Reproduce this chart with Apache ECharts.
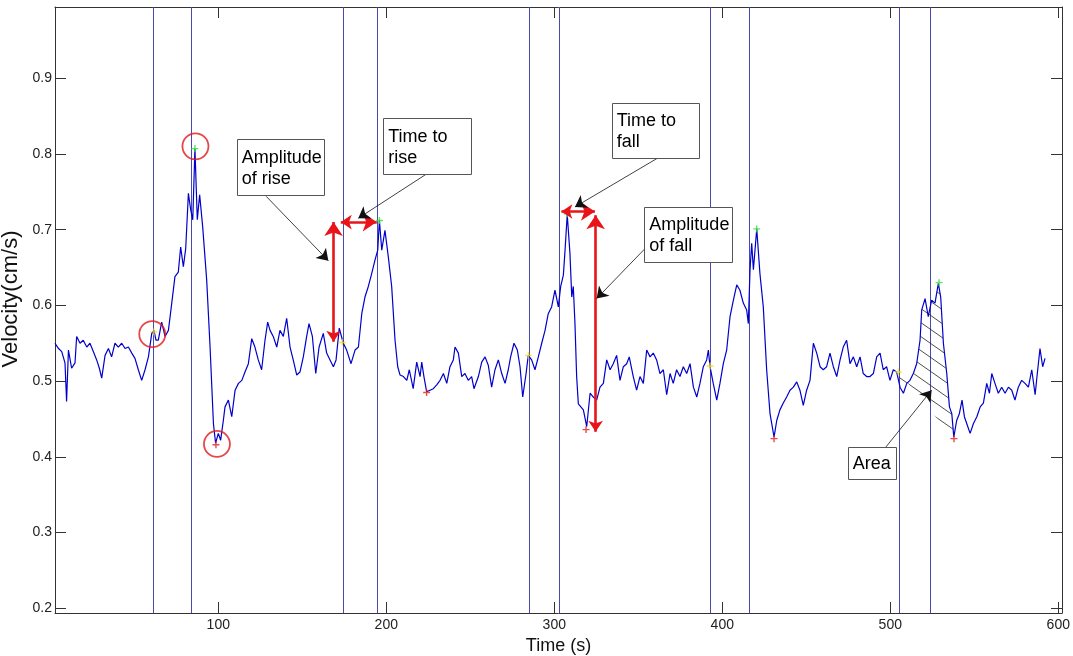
<!DOCTYPE html>
<html><head><meta charset="utf-8">
<script src="https://cdn.jsdelivr.net/npm/echarts@6/dist/echarts.min.js"></script>
<style>html,body{margin:0;padding:0;background:#fff}#c{width:1073px;height:656px}</style>
</head><body><div id="c"></div>
<script>
// ---- data ----
const time = [2.8,4.9,6.8,8.75,9.7,10.8,12.7,14.7,15.7,17.7,19.6,21.7,23.6,25.6,27.6,29.2,30.6,32.6,34.6,36.5,38.5,40.5,42.5,44.5,46.5,48.5,50.4,52.4,54.4,56.4,58.4,60.4,61.7,62.9,64.3,66.3,68.3,70.3,72.3,74.2,76.2,77.6,79.2,80.6,82.2,83.6,84.8,86.1,87.5,88.9,90.7,93.1,95.1,97.1,98.4,100,101.4,103,104,106,108,110,112,114,115.9,117.9,119.9,121.8,123.8,125.8,127.8,129.4,130.8,132.7,134.8,136.7,138.7,140.7,142.7,144.6,146.7,148.6,150.6,152.6,154,156,158,160,162.5,164.5,166.5,168.5,170.1,172,174.4,176.4,179,181.4,183.4,185.4,187.3,189.3,191.3,193.3,194.9,195.9,197.3,199.2,201.2,203.2,205.2,206.8,208.2,210.2,212.2,213.7,216,218.1,220.1,221.1,222.4,224,226,228,230,232,234,236,237.9,239.9,240.9,242.9,244.9,246.8,248.8,250.8,252.2,254.8,256.8,258.8,260.7,262.7,264.7,266.7,268.7,270.7,272.6,274,276,278,279.6,281.2,283.2,284.5,286.5,288.5,290.5,292.5,294.5,296.4,298.4,300.4,302.4,303.8,305.4,306.4,307.7,309.3,310.4,311.3,312.3,313.3,314.3,315.3,317.3,319.3,321.3,323.2,325.2,327.2,329.2,331.2,333.2,335.1,337.1,339.1,341.1,343.1,344.6,347,349,351,353,355,357,358.9,360.9,362.9,364.9,366.9,368.9,370.8,372.8,374.8,376.8,378.8,380.8,382.8,384.8,386.7,388.7,390.7,391.7,392.7,394.6,396.7,398.6,400.6,402.6,404.6,406.6,408.6,410.5,412.5,414.5,415.5,416.5,417.5,418.5,420.5,422.4,424.4,426.4,428.4,430.8,432.4,434.3,436.3,438.3,440.3,442.3,444.3,446.2,448.2,450.2,452.2,454.2,456.2,458.2,460.1,462.1,464.1,466.1,468.1,470.1,472,474,476,478,480,482,483.9,485.9,487.9,489.9,491.9,493.9,495.8,497.8,499.8,501.8,503.8,505.8,507.8,509.8,511.7,513.7,515.7,517.7,518.7,520.7,522.6,524.6,526.6,528.6,530,531.6,533.6,535.2,536.6,537.8,539.5,541.1,542.7,544.1,546.1,547.5,549.5,551.5,553.5,555.4,557.4,559,560.4,562.3,564.3,566.3,568.3,570.3,572.3,574.2,576.2,578.2,580.2,582.2,584.2,586.2,587.5,589.1,590.7,592.1];
const velocity = [0.550,0.543,0.539,0.524,0.473,0.541,0.517,0.524,0.559,0.550,0.554,0.545,0.550,0.539,0.528,0.517,0.504,0.534,0.543,0.532,0.550,0.545,0.550,0.543,0.545,0.537,0.530,0.515,0.501,0.515,0.532,0.563,0.567,0.554,0.554,0.578,0.559,0.567,0.603,0.638,0.644,0.677,0.651,0.675,0.748,0.726,0.713,0.807,0.713,0.746,0.704,0.633,0.545,0.444,0.418,0.431,0.422,0.448,0.466,0.475,0.453,0.488,0.497,0.501,0.512,0.523,0.556,0.545,0.528,0.515,0.554,0.578,0.567,0.559,0.545,0.567,0.559,0.583,0.545,0.528,0.508,0.512,0.532,0.559,0.576,0.559,0.510,0.545,0.563,0.537,0.528,0.519,0.528,0.570,0.550,0.541,0.523,0.541,0.545,0.589,0.611,0.625,0.642,0.660,0.673,0.712,0.673,0.699,0.664,0.625,0.554,0.519,0.508,0.506,0.501,0.515,0.490,0.525,0.506,0.525,0.506,0.486,0.488,0.490,0.495,0.501,0.510,0.497,0.519,0.528,0.545,0.537,0.506,0.510,0.501,0.506,0.490,0.506,0.525,0.532,0.521,0.492,0.515,0.528,0.510,0.497,0.515,0.532,0.550,0.541,0.519,0.479,0.510,0.534,0.528,0.515,0.532,0.550,0.567,0.589,0.598,0.620,0.598,0.625,0.640,0.673,0.720,0.669,0.611,0.625,0.576,0.506,0.470,0.470,0.462,0.440,0.484,0.479,0.475,0.492,0.497,0.528,0.515,0.523,0.534,0.501,0.519,0.523,0.532,0.506,0.488,0.506,0.497,0.541,0.532,0.537,0.528,0.510,0.515,0.482,0.510,0.497,0.515,0.506,0.519,0.510,0.523,0.492,0.479,0.497,0.519,0.528,0.541,0.519,0.497,0.475,0.497,0.523,0.541,0.585,0.607,0.627,0.620,0.603,0.594,0.576,0.647,0.682,0.647,0.701,0.642,0.598,0.515,0.457,0.426,0.448,0.462,0.471,0.479,0.488,0.492,0.499,0.488,0.468,0.488,0.501,0.550,0.537,0.519,0.515,0.519,0.537,0.519,0.506,0.528,0.545,0.554,0.523,0.532,0.519,0.532,0.510,0.506,0.506,0.510,0.532,0.537,0.515,0.519,0.501,0.515,0.512,0.492,0.484,0.497,0.501,0.510,0.523,0.554,0.594,0.609,0.585,0.607,0.603,0.629,0.611,0.550,0.510,0.466,0.457,0.426,0.448,0.457,0.475,0.453,0.440,0.431,0.444,0.453,0.466,0.471,0.497,0.484,0.510,0.497,0.484,0.492,0.484,0.492,0.488,0.475,0.492,0.501,0.497,0.492,0.515,0.482,0.510,0.543,0.519,0.530];
const eventLines = [61.4, 84.1, 174.3, 194.6, 284.9, 302.8, 392.8, 416.0, 505.4, 524.0];
const onsetPts  = [[61.7,0.565],[173.8,0.551],[284.6,0.534],[392.7,0.520],[504.8,0.512]];
const peakPts   = [[86.1,0.807],[195.9,0.712],[307.7,0.721],[420.5,0.701],[529.0,0.630]];
const troughPts = [[98.6,0.416],[224.0,0.485],[318.9,0.436],[430.8,0.424],[537.9,0.424]];
const circledPts = [[60.7,0.562],[86.4,0.810],[99.2,0.417]];
const xTicks = [100, 200, 300, 400, 500, 600];
const yTicks = [0.2, 0.3, 0.4, 0.5, 0.6, 0.7, 0.8, 0.9];
const redArrows = [
  [[168.6,0.552],[168.6,0.710]],
  [[172.9,0.710],[194.3,0.710]],
  [[304.2,0.724],[324.2,0.724]],
  [[324.6,0.433],[324.6,0.719]]
];
const callouts = [
  [[128.5,0.744],[165.5,0.659]],
  [[223.6,0.773],[183.3,0.715]],
  [[361.9,0.795],[312.3,0.730]],
  [[354.0,0.675],[325.2,0.609]],
  [[497.4,0.413],[524.6,0.488]]
];
const boxes = [
  {text:'Amplitude\nof rise', x0:110.95, y0:0.8193, x1:162.9, y1:0.7457},
  {text:'Time to\nrise', x0:198.2, y0:0.847, x1:250.8, y1:0.773},
  {text:'Time to\nfall', x0:334.2, y0:0.8676, x1:386.1, y1:0.795},
  {text:'Amplitude\nof fall', x0:353.6, y0:0.7295, x1:405.9, y1:0.6563},
  {text:'Area', x0:474.6, y0:0.4132, x1:503.4, y1:0.3705}
];
const areaStart = [504.8, 0.512];
const areaEnd = [537.9, 0.424];

// ---- chart ----
const FONT = 'Liberation Sans, Arial, Helvetica, sans-serif';
const X_MIN = 2.8, X_MAX = 602.2, Y_MIN = 0.1938, Y_MAX = 0.994;
const signal = time.map((t, i) => [t, velocity[i]]);
const chart = echarts.init(document.getElementById('c'), null, {renderer: 'canvas'});
const plus = 'path://M4,0h2v4h4v2h-4v4h-2v-4h-4v-2h4z';
const axisCommon = {
  type: 'value',
  axisLine: {show: true, lineStyle: {color: '#333', width: 1}},
  splitLine: {show: false}
};
chart.setOption({
  animation: false,
  backgroundColor: '#fff',
  grid: {left: 55, right: 11, top: 7, bottom: 43, containLabel: false, outerBoundsMode: 'none'},
  xAxis: [
    Object.assign({}, axisCommon, {
      min: X_MIN, max: X_MAX, position: 'bottom',
      name: 'Time (s)', nameLocation: 'middle', nameGap: 21,
      nameTextStyle: {fontFamily: FONT, fontSize: 18, color: '#111'},
      axisTick: {show: true, inside: true, length: 11, customValues: xTicks, lineStyle: {color: '#333'}},
      axisLabel: {show: true, customValues: xTicks, fontFamily: FONT, fontSize: 14, color: '#222', margin: 5}
    }),
    Object.assign({}, axisCommon, {
      min: X_MIN, max: X_MAX, position: 'top',
      axisTick: {show: true, inside: true, length: 11, customValues: xTicks, lineStyle: {color: '#333'}},
      axisLabel: {show: false, customValues: xTicks}
    })
  ],
  yAxis: [
    Object.assign({}, axisCommon, {
      min: Y_MIN, max: Y_MAX, position: 'left',
      name: 'Velocity(cm/s)', nameLocation: 'middle', nameGap: 30, nameRotate: 90,
      nameTextStyle: {fontFamily: FONT, fontSize: 22, color: '#111', padding: [0, 0, 0, 22]},
      axisTick: {show: true, inside: true, length: 11, customValues: yTicks, lineStyle: {color: '#333'}},
      axisLabel: {show: true, customValues: yTicks, fontFamily: FONT, fontSize: 14, color: '#222', margin: 3}
    }),
    Object.assign({}, axisCommon, {
      min: Y_MIN, max: Y_MAX, position: 'right',
      axisTick: {show: true, inside: true, length: 11, customValues: yTicks, lineStyle: {color: '#333'}},
      axisLabel: {show: false, customValues: yTicks}
    })
  ],
  series: [
    {type: 'lines', coordinateSystem: 'cartesian2d', symbol: ['none', 'none'], silent: true,
      lineStyle: {color: '#4848b4', width: 1, opacity: 1},
      data: eventLines.map(x => ({coords: [[x, Y_MIN], [x, Y_MAX]]})), z: 2},
    {
      type: 'line', data: signal, showSymbol: false, symbol: 'none',
      lineStyle: {color: '#0000cc', width: 1.2}, z: 3
    },
    {type: 'scatter', data: onsetPts, symbol: plus, symbolSize: 7, itemStyle: {color: '#f2e020'}, z: 6},
    {type: 'scatter', data: peakPts, symbol: plus, symbolSize: 7, itemStyle: {color: '#33e033'}, z: 6},
    {type: 'scatter', data: troughPts, symbol: plus, symbolSize: 7, itemStyle: {color: '#e02020'}, z: 6},
    {type: 'scatter', data: circledPts, symbol: 'circle', symbolSize: 26,
      itemStyle: {color: 'rgba(0,0,0,0)', borderColor: '#e01a1a', borderWidth: 1.8}, z: 6},
    {type: 'lines', coordinateSystem: 'cartesian2d', symbol: ['arrow', 'arrow'], symbolSize: [11, 14],
      lineStyle: {color: '#e8141a', width: 2.6, opacity: 1}, data: redArrows.map(c => ({coords: c})), z: 7},
    {type: 'lines', coordinateSystem: 'cartesian2d', symbol: ['none', 'arrow'], symbolSize: [7, 11],
      lineStyle: {color: '#111', width: 0.8, opacity: 1}, data: callouts.map(c => ({coords: c})), z: 8}
  ]
});

// hatch pattern for area
const pc = document.createElement('canvas');
pc.width = 20; pc.height = 14;
const g = pc.getContext('2d');
g.strokeStyle = '#222'; g.lineWidth = 0.8;
for (let dx = -20; dx <= 20; dx += 20) {
  for (let dy = -14; dy <= 14; dy += 14) {
    g.beginPath(); g.moveTo(dx, dy); g.lineTo(dx + 20, dy + 14); g.stroke();
  }
}
const toPx = p => chart.convertToPixel({seriesIndex: 1}, p);
const areaPts = [toPx(areaStart)];
signal.forEach(p => { if (p[0] > areaStart[0] && p[0] < areaEnd[0]) areaPts.push(toPx(p)); });
areaPts.push(toPx(areaEnd));

const graphics = [{
  type: 'polygon', z: 4, silent: true,
  shape: {points: areaPts},
  style: {fill: {image: pc, repeat: 'repeat'}, stroke: null}
}];
boxes.forEach(b => {
  const a = toPx([b.x0, b.y0]), c = toPx([b.x1, b.y1]);
  graphics.push({
    type: 'rect', z: 10, silent: true,
    shape: {x: Math.round(a[0]) + 0.5, y: Math.round(a[1]) + 0.5, width: Math.round(c[0] - a[0]), height: Math.round(c[1] - a[1])},
    style: {fill: '#fff', stroke: '#555', lineWidth: 1}
  });
  const lines = b.text.split('\n').length;
  const h = c[1] - a[1];
  graphics.push({
    type: 'text', z: 11, silent: true,
    x: a[0] + 5, y: a[1] + h / 2 - lines * 21 / 2 + 1,
    style: {text: b.text, fontFamily: FONT, fontSize: 18, lineHeight: 21, fill: '#000', verticalAlign: 'top'}
  });
});
chart.setOption({graphic: graphics});
</script></body></html>
